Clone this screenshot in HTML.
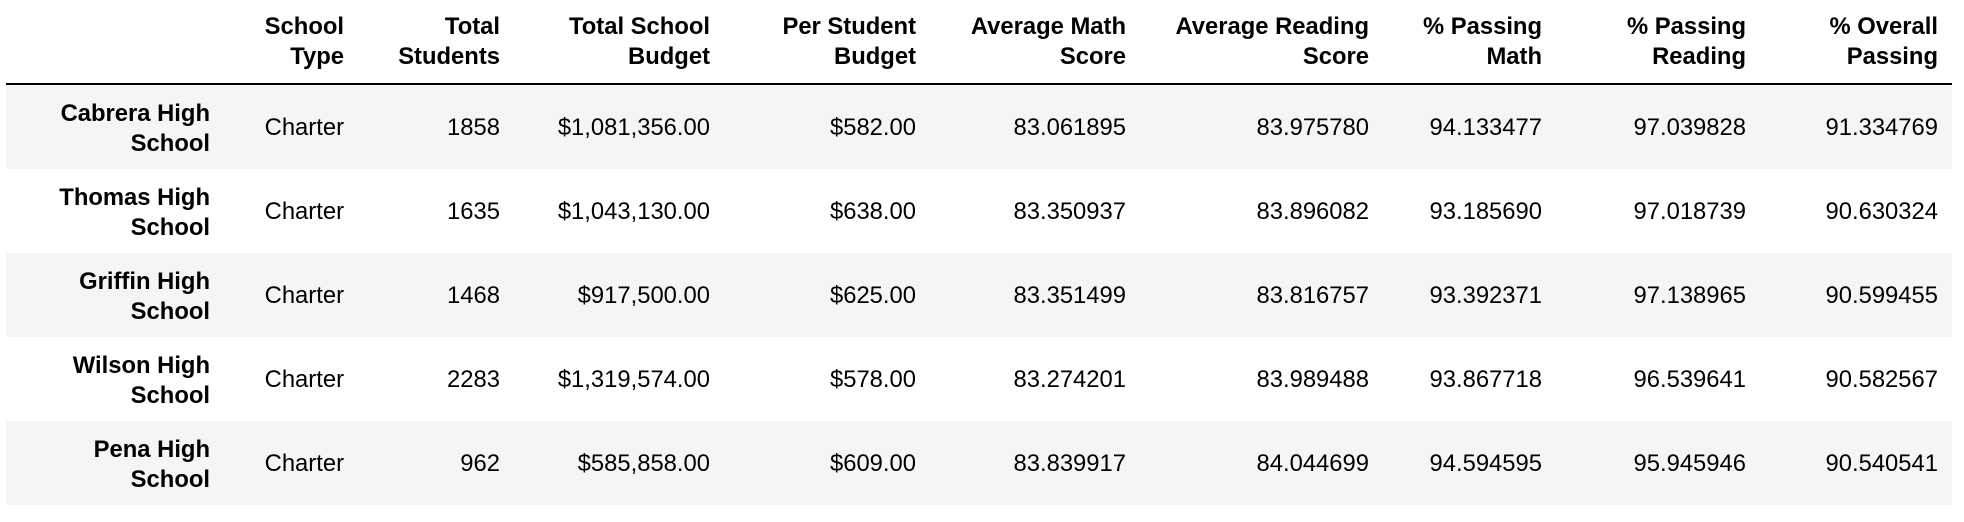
<!DOCTYPE html>
<html><head><meta charset="utf-8"><style>
body{margin:0;width:1964px;height:522px;background:#fff;font-family:"Liberation Sans",Arial,sans-serif;color:#000;overflow:hidden;position:relative}
.c{position:absolute;text-align:right;font-size:23.8px;line-height:30px;white-space:nowrap}
.h{font-weight:bold}
.row{position:absolute;left:6px;width:1946px;height:84px}
.line{position:absolute;left:6px;width:1946px;top:83px;height:2px;background:#000}
</style></head><body>
<div id="t"></div>
<script>
const headers=[["",""],["School","Type"],["Total","Students"],["Total School","Budget"],["Per Student","Budget"],["Average Math","Score"],["Average Reading","Score"],["% Passing","Math"],["% Passing","Reading"],["% Overall","Passing"]];
const schools=[["Cabrera High","School"],["Thomas High","School"],["Griffin High","School"],["Wilson High","School"],["Pena High","School"]];
const rows=[
["Charter","1858","$1,081,356.00","$582.00","83.061895","83.975780","94.133477","97.039828","91.334769"],
["Charter","1635","$1,043,130.00","$638.00","83.350937","83.896082","93.185690","97.018739","90.630324"],
["Charter","1468","$917,500.00","$625.00","83.351499","83.816757","93.392371","97.138965","90.599455"],
["Charter","2283","$1,319,574.00","$578.00","83.274201","83.989488","93.867718","96.539641","90.582567"],
["Charter","962","$585,858.00","$609.00","83.839917","84.044699","94.594595","95.945946","90.540541"]];
const rights=[210,344,500,710,916,1126,1369,1542,1746,1938];
const t=document.getElementById('t');
function cell(txt,right,top,bold,name){const d=document.createElement('div');d.className='c'+(bold?' h':'');d.style.right=(1964-right)+'px';d.style.top=top+'px';d.innerHTML=txt;


t.appendChild(d);}
headers.forEach((h,i)=>{if(i>0)cell(h[0]+'<br>'+h[1],rights[i],12,true,'column-header');});
const ln=document.createElement('div');ln.className='line';


t.appendChild(ln);
rows.forEach((r,k)=>{const top=85+k*84;
const bg=document.createElement('div');bg.className='row';bg.style.top=top+'px';bg.style.background=k%2==0?'#f5f5f5':'#fff';


t.appendChild(bg);
cell(schools[k][0]+'<br>'+schools[k][1],rights[0],top+14,true,'row-label');
r.forEach((v,j)=>cell(v,rights[j+1],top+28,false,'table-cell'));});
</script>
</body></html>
